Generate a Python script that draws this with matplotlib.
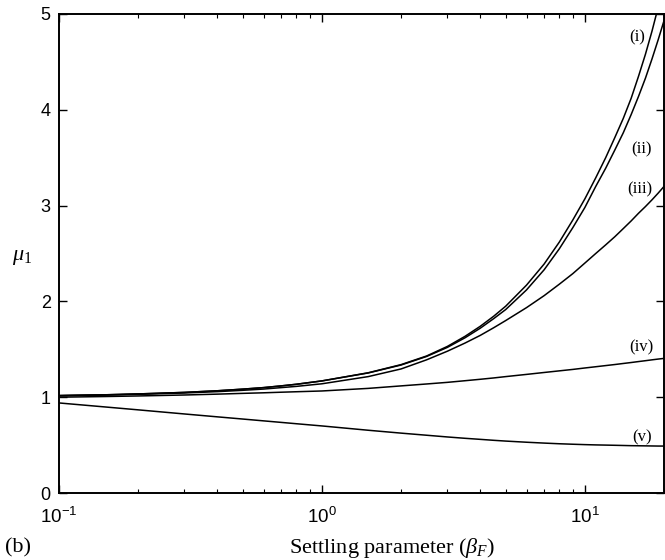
import numpy as np
import matplotlib
matplotlib.use("Agg")
import matplotlib.pyplot as plt
from matplotlib.ticker import FixedLocator, LogLocator, NullFormatter, FixedFormatter

plt.rcParams['font.family'] = ['Liberation Serif', 'DejaVu Serif']
plt.rcParams['mathtext.fontset'] = 'custom'
plt.rcParams['mathtext.rm'] = 'Liberation Serif'
plt.rcParams['mathtext.it'] = 'Liberation Serif:italic'
plt.rcParams['mathtext.sf'] = 'Liberation Sans'

# settling parameter beta_F
beta = [0.1, 0.15, 0.2, 0.3, 0.4, 0.5, 0.6, 0.7, 0.8, 1, 1.5, 2, 2.5, 3, 3.5, 4, 4.5, 5,
        6, 7, 8, 9, 10, 11, 12, 13, 14, 15, 16, 17, 18, 19, 20]

mu_i = [1.017, 1.025, 1.034, 1.05, 1.067, 1.084, 1.10, 1.118, 1.135, 1.17, 1.255, 1.34,
        1.43, 1.53, 1.635, 1.74, 1.845, 1.95, 2.17, 2.39, 2.62, 2.85, 3.07, 3.29, 3.50,
        3.71, 3.91, 4.12, 4.35, 4.58, 4.82, 5.07, 5.32]
mu_ii = [1.017, 1.025, 1.034, 1.05, 1.067, 1.084, 1.10, 1.118, 1.135, 1.17, 1.253, 1.336,
         1.425, 1.52, 1.62, 1.72, 1.82, 1.915, 2.12, 2.33, 2.55, 2.77, 2.98, 3.20, 3.39,
         3.58, 3.76, 3.95, 4.14, 4.33, 4.53, 4.73, 4.93]
mu_iii = [1.015, 1.022, 1.03, 1.044, 1.058, 1.072, 1.085, 1.10, 1.113, 1.14, 1.215, 1.295,
          1.39, 1.48, 1.565, 1.645, 1.725, 1.80, 1.935, 2.06, 2.18, 2.29, 2.40, 2.50, 2.59,
          2.675, 2.76, 2.84, 2.92, 2.99, 3.06, 3.13, 3.20]
mu_iv = [1.00, 1.007, 1.013, 1.023, 1.032, 1.04, 1.046, 1.052, 1.057, 1.065, 1.092, 1.118,
         1.138, 1.155, 1.172, 1.187, 1.201, 1.215, 1.238, 1.258, 1.275, 1.29, 1.305, 1.318,
         1.33, 1.341, 1.352, 1.362, 1.372, 1.381, 1.39, 1.398, 1.405]
mu_v = [0.94, 0.898, 0.868, 0.825, 0.795, 0.772, 0.753, 0.737, 0.723, 0.70, 0.655, 0.625,
        0.603, 0.585, 0.571, 0.56, 0.55, 0.542, 0.53, 0.521, 0.514, 0.509, 0.505, 0.502,
        0.50, 0.498, 0.496, 0.494, 0.493, 0.492, 0.491, 0.49, 0.49]

curve_names = ['(i)', '(ii)', '(iii)', '(iv)', '(v)']
# label anchor (right edge in beta, centre in mu) beside each curve end
label_beta = [16.9, 18.0, 18.0, 18.2, 18.0]
label_mu = [4.76, 3.59, 3.17, 1.52, 0.58]

xticks = [0.1, 1, 10]
xtick_labels = [r'$\mathsf{10^{-1}}$', r'$\mathsf{10^{0}}$', r'$\mathsf{10^{1}}$']
yticks = [0, 1, 2, 3, 4, 5]

fig = plt.figure(figsize=(6.65, 5.6), dpi=100)
ax = fig.add_axes([59 / 665, 67 / 560, 605 / 665, 479 / 560])

for mu in [mu_i, mu_ii, mu_iii, mu_iv, mu_v]:
    ax.plot(beta, mu, color='black', lw=1.1)

for name, bx, by in zip(curve_names, label_beta, label_mu):
    ax.text(bx, by, name, fontsize=12, ha='right', va='center')

ax.set_xscale('log')
ax.set_xlim(0.1, 20)
ax.set_ylim(0, 5)
ax.xaxis.set_major_locator(FixedLocator(xticks))
ax.xaxis.set_major_formatter(FixedFormatter(xtick_labels))
ax.xaxis.set_minor_locator(LogLocator(base=10, subs=np.arange(2, 10)))
ax.xaxis.set_minor_formatter(NullFormatter())
ax.set_yticks(yticks)
ax.set_yticklabels([str(v) for v in yticks], family='Liberation Sans', fontsize=13)
for lab in ax.get_xticklabels():
    lab.set_fontsize(13.5)

ax.tick_params(which='both', direction='in', top=True, right=True)
ax.tick_params(which='major', length=6, width=1.0)
ax.tick_params(which='minor', length=3, width=0.8)
ax.tick_params(axis='y', pad=6)
ax.tick_params(axis='x', pad=10)
for sp in ax.spines.values():
    sp.set_linewidth(1.4)

fig.text(392 / 665, 1 - 548 / 560, r'Settling parameter ($\beta_F$)', fontsize=16,
         ha='center', va='center')
fig.text(22 / 665, 1 - 258 / 560, r'$\mu_1$', fontsize=16, ha='center', va='center')
fig.text(5 / 665, 1 - 548 / 560, '(b)', fontsize=16, ha='left', va='center')

fig.savefig('out.png', dpi=100)
